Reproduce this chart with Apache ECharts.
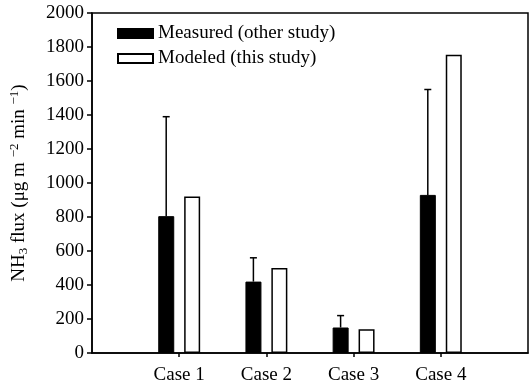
<!DOCTYPE html>
<html><head><meta charset="utf-8">
<script src="https://cdn.jsdelivr.net/npm/echarts@6/dist/echarts.min.js"></script>
<style>html,body{margin:0;padding:0;background:#fff}#c{width:530px;height:388px}</style>
</head><body><div id="c"></div>
<script>
const categories = ['', 'Case 1', 'Case 2', 'Case 3', 'Case 4', ''];
const measured = [null, 805, 420, 150, 930, null];
const measuredErr = [null, 1390, 560, 220, 1550, null];
const modeled = [null, 920, 500, 140, 1755, null];
const yTicks = {min: 0, max: 2000, interval: 200};

const FONT = '"Liberation Serif", "DejaVu Serif", serif';
const chart = echarts.init(document.getElementById('c'), null, {renderer: 'canvas'});
const errData = [];
measured.forEach((v, i) => { if (v != null) errData.push([i, v, measuredErr[i]]); });

chart.setOption({
  animation: false,
  backgroundColor: '#fff',
  textStyle: {fontFamily: FONT, color: '#000'},
  grid: {left: 92, right: 2, top: 13, bottom: 35, show: true, borderColor: '#000', borderWidth: 1.5,
         backgroundColor: 'transparent', containLabel: false, outerBoundsMode: 'none'},
  legend: {
    data: ['Measured (other study)', 'Modeled (this study)'],
    orient: 'vertical', left: 112, top: 19, itemWidth: 35, itemHeight: 9, itemGap: 6,
    textStyle: {fontFamily: FONT, fontSize: 19, color: '#000'}, icon: 'rect'
  },
  xAxis: {
    type: 'category', data: categories, boundaryGap: false,
    axisLine: {lineStyle: {color: '#000', width: 1.5}},
    axisTick: {show: true, length: 4, inside: false, lineStyle: {color: '#000', width: 1.5},
      interval: (idx) => idx >= 1 && idx <= 4},
    axisLabel: {fontFamily: FONT, fontSize: 19, color: '#000', margin: 13, interval: 0},
    splitLine: {show: false}
  },
  yAxis: {
    type: 'value', min: yTicks.min, max: yTicks.max, interval: yTicks.interval,
    axisLine: {show: true, lineStyle: {color: '#000', width: 1.5}},
    axisTick: {show: true, length: 5, lineStyle: {color: '#000', width: 1.5}},
    axisLabel: {fontFamily: FONT, fontSize: 19, color: '#000', margin: 8, formatter: (v) => String(v)},
    splitLine: {show: false},
    name: '{b|NH}{sub|3}{b| flux (μg m }{sup|−2}{b| min }{sup|−1}{b|)}',
    nameLocation: 'middle', nameGap: 61, nameRotate: 90,
    nameTextStyle: {
      fontFamily: FONT, fontSize: 19, color: '#000',
      rich: {
        b: {fontFamily: FONT, fontSize: 19, color: '#000', lineHeight: 24},
        sub: {fontFamily: FONT, fontSize: 13, color: '#000', padding: [10, 0, 0, 0], lineHeight: 24},
        sup: {fontFamily: FONT, fontSize: 13, color: '#000', padding: [0, 0, 9, 0], lineHeight: 24}
      }
    }
  },
  series: [
    {name: 'Measured (other study)', type: 'bar', data: measured, barWidth: 16, barGap: '62%',
     itemStyle: {color: '#000', borderColor: '#000', borderWidth: 1}},
    {name: 'Modeled (this study)', type: 'bar', data: modeled, barWidth: 16,
     itemStyle: {color: '#fff', borderColor: '#000', borderWidth: 1.5}},
    {name: 'err', type: 'custom', data: errData, z: 1,
     renderItem: function (params, api) {
       const lo = api.coord([api.value(0), api.value(1)]);
       const hi = api.coord([api.value(0), api.value(2)]);
       const x = lo[0] - 13;
       return {type: 'group', children: [
         {type: 'line', shape: {x1: x, y1: lo[1], x2: x, y2: hi[1]}, style: {stroke: '#000', lineWidth: 1.5}},
         {type: 'line', shape: {x1: x - 3.5, y1: hi[1], x2: x + 3.5, y2: hi[1]}, style: {stroke: '#000', lineWidth: 1.5}}
       ]};
     }}
  ]
});
</script></body></html>
